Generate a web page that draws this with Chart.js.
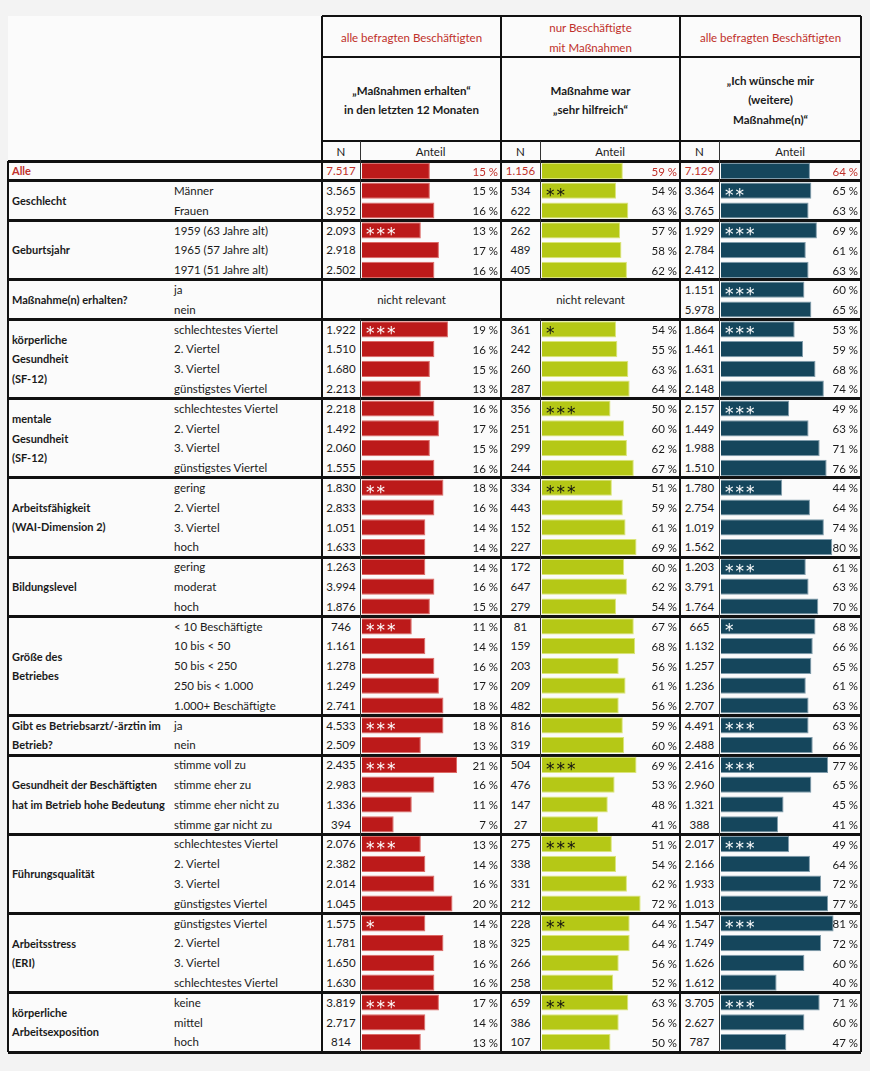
<!DOCTYPE html>
<html lang="de">
<head>
<meta charset="utf-8">
<title>Maßnahmen – Tabelle</title>
<script src="https://cdn.jsdelivr.net/npm/chart.js@4.4.1/dist/chart.umd.min.js"></script>
<style>
  html, body { margin: 0; padding: 0; background: #f3f3f3; }
  #wrap { position: relative; width: 870px; height: 1071px; font-family: Lato, "Noto Sans", sans-serif; font-size: 11.5px; color: #1a1a1a; }
  .t { position: absolute; white-space: nowrap; line-height: 19.4px; }
  .ln { position: absolute; background: #111; }
  canvas { position: absolute; }
</style>
</head>
<body>
<div id="wrap"></div>
<script>
// --- DATA ---
const groupLabels = ['Alle', 'Geschlecht', 'Geburtsjahr', 'Maßnahme(n) erhalten?', 'körperliche\nGesundheit\n(SF-12)',
    'mentale\nGesundheit\n(SF-12)', 'Arbeitsfähigkeit\n(WAI-Dimension 2)', 'Bildungslevel', 'Größe des\nBetriebes',
    'Gibt es Betriebsarzt/-ärztin im\nBetrieb?', 'Gesundheit der Beschäftigten\nhat im Betrieb hohe Bedeutung',
    'Führungsqualität', 'Arbeitsstress\n(ERI)', 'körperliche\nArbeitsexposition'];
const groupSizes = [1, 2, 3, 2, 4, 4, 4, 3, 5, 2, 4, 4, 4, 3];
const rowLabels = ['',
    'Männer', 'Frauen',
    '1959 (63 Jahre alt)', '1965 (57 Jahre alt)', '1971 (51 Jahre alt)',
    'ja', 'nein',
    'schlechtestes Viertel', '2. Viertel', '3. Viertel', 'günstigstes Viertel',
    'schlechtestes Viertel', '2. Viertel', '3. Viertel', 'günstigstes Viertel',
    'gering', '2. Viertel', '3. Viertel', 'hoch',
    'gering', 'moderat', 'hoch',
    '< 10 Beschäftigte', '10 bis < 50', '50 bis < 250', '250 bis < 1.000', '1.000+ Beschäftigte',
    'ja', 'nein',
    'stimme voll zu', 'stimme eher zu', 'stimme eher nicht zu', 'stimme gar nicht zu',
    'schlechtestes Viertel', '2. Viertel', '3. Viertel', 'günstigstes Viertel',
    'günstigstes Viertel', '2. Viertel', '3. Viertel', 'schlechtestes Viertel',
    'keine', 'mittel', 'hoch'];

// Spalte 1: Maßnahmen erhalten
const n1 = [7517, 3565, 3952, 2093, 2918, 2502, null, null, 1922, 1510, 1680, 2213, 2218, 1492, 2060, 1555,
    1830, 2833, 1051, 1633, 1263, 3994, 1876, 746, 1161, 1278, 1249, 2741, 4533, 2509, 2435, 2983, 1336, 394,
    2076, 2382, 2014, 1045, 1575, 1781, 1650, 1630, 3819, 2717, 814];
const anteil1 = [15, 15, 16, 13, 17, 16, null, null, 19, 16, 15, 13, 16, 17, 15, 16, 18, 16, 14, 14, 14, 16, 15,
    11, 14, 16, 17, 18, 18, 13, 21, 16, 11, 7, 13, 14, 16, 20, 14, 18, 16, 16, 17, 14, 13];
const sig1 = ['', '', '', '***', '', '', '', '', '***', '', '', '', '', '', '', '', '**', '', '', '', '', '', '',
    '***', '', '', '', '', '***', '', '***', '', '', '', '***', '', '', '', '*', '', '', '', '***', '', ''];

// Spalte 2: sehr hilfreich
const n2 = [1156, 534, 622, 262, 489, 405, null, null, 361, 242, 260, 287, 356, 251, 299, 244,
    334, 443, 152, 227, 172, 647, 279, 81, 159, 203, 209, 482, 816, 319, 504, 476, 147, 27,
    275, 338, 331, 212, 228, 325, 266, 258, 659, 386, 107];
const anteil2 = [59, 54, 63, 57, 58, 62, null, null, 54, 55, 63, 64, 50, 60, 62, 67, 51, 59, 61, 69, 60, 62, 54,
    67, 68, 56, 61, 56, 59, 60, 69, 53, 48, 41, 51, 54, 62, 72, 64, 64, 56, 52, 63, 56, 50];
const sig2 = ['', '**', '', '', '', '', '', '', '*', '', '', '', '***', '', '', '', '***', '', '', '', '', '', '',
    '', '', '', '', '', '', '', '***', '', '', '', '***', '', '', '', '**', '', '', '', '**', '', ''];

// Spalte 3: Wunsch nach (weiteren) Maßnahmen
const n3 = [7129, 3364, 3765, 1929, 2784, 2412, 1151, 5978, 1864, 1461, 1631, 2148, 2157, 1449, 1988, 1510,
    1780, 2754, 1019, 1562, 1203, 3791, 1764, 665, 1132, 1257, 1236, 2707, 4491, 2488, 2416, 2960, 1321, 388,
    2017, 2166, 1933, 1013, 1547, 1749, 1626, 1612, 3705, 2627, 787];
const anteil3 = [64, 65, 63, 69, 61, 63, 60, 65, 53, 59, 68, 74, 49, 63, 71, 76, 44, 64, 74, 80, 61, 63, 70,
    68, 66, 65, 61, 63, 63, 66, 77, 65, 45, 41, 49, 64, 72, 77, 81, 72, 60, 40, 71, 60, 47];
const sig3 = ['', '**', '', '***', '', '', '***', '', '***', '', '', '', '***', '', '', '', '***', '', '', '', '***', '', '',
    '*', '', '', '', '', '***', '', '***', '', '', '', '***', '', '', '', '***', '', '', '', '***', '', ''];

const headTop = ['alle befragten Beschäftigten', 'nur Beschäftigte\nmit Maßnahmen', 'alle befragten Beschäftigten'];
const headMain = ['„Maßnahmen erhalten“\nin den letzten 12 Monaten', 'Maßnahme war\n„sehr hilfreich“', '„Ich wünsche mir\n(weitere)\nMaßnahme(n)“'];

// --- LAYOUT ---
const RED = '#c0302a';
const TEXT = '#1a1a1a';
const X_LEFT = 8, X_SUB = 174, X_SPLIT = 322, X_RIGHT = 861;
const cols = [
    { n: [322, 360], a: [360, 501], xMax: 30.5, color: '#bc1a1a', border: '#dc6a66', star: '#ffffff', n_: n1, v: anteil1, s: sig1 },
    { n: [501, 540], a: [540, 680], xMax: 100, color: '#b5c816', border: '#dbe57a', star: '#111111', n_: n2, v: anteil2, s: sig2 },
    { n: [680, 719], a: [719, 861], xMax: 100, color: '#15465c', border: '#7f9cab', star: '#ffffff', n_: n3, v: anteil3, s: sig3 }
];
const Y_TOP = 16, Y_H1 = 57, Y_H2 = 141, BODY_TOP = 161, BODY_BOTTOM = 1052;
const ROW_H = (BODY_BOTTOM - BODY_TOP) / rowLabels.length;
const rowY = i => BODY_TOP + (i + 0.5) * ROW_H;

const wrap = document.getElementById('wrap');

function text(str, left, width, cy, opts = {}) {
    const lines = str.split('\n');
    const d = document.createElement('div');
    d.className = 't';
    d.innerHTML = lines.map(l => l.replace(/</g, '&lt;')).join('<br>');
    d.style.left = left + 'px';
    if (width) { d.style.width = width + 'px'; d.style.textAlign = 'center'; }
    d.style.top = (cy - lines.length * 19.4 / 2) + 'px';
    if (opts.bold) d.style.fontWeight = 'bold';
    if (opts.color) d.style.color = opts.color;
    if (opts.size) d.style.fontSize = opts.size + 'px';
    wrap.appendChild(d);
}
function line(x1, y1, x2, y2, w, color) {
    const d = document.createElement('div');
    d.className = 'ln';
    if (y1 === y2) { d.style.left = x1 + 'px'; d.style.width = (x2 - x1) + 'px'; d.style.top = (y1 - w / 2) + 'px'; d.style.height = w + 'px'; }
    else { d.style.top = y1 + 'px'; d.style.height = (y2 - y1) + 'px'; d.style.left = (x1 - w / 2) + 'px'; d.style.width = w + 'px'; }
    if (color) d.style.background = color;
    wrap.appendChild(d);
}

// table background
const bg = document.createElement('div');
bg.style.cssText = `position:absolute;left:${X_LEFT}px;top:${Y_TOP}px;width:${X_RIGHT - X_LEFT}px;height:${BODY_BOTTOM - Y_TOP}px;background:#fbfbfb`;
wrap.appendChild(bg);

// --- HEADER ---
cols.forEach((c, k) => {
    text(headTop[k], c.n[0], c.a[1] - c.n[0], (Y_TOP + Y_H1) / 2 + 1, { color: RED });
    text(headMain[k], c.n[0], c.a[1] - c.n[0], (Y_H1 + Y_H2) / 2 + 1, { bold: true });
    text('N', c.n[0], c.n[1] - c.n[0], (Y_H2 + BODY_TOP) / 2 + 1);
    text('Anteil', c.a[0], c.a[1] - c.a[0], (Y_H2 + BODY_TOP) / 2 + 1);
});

// --- ROW LABELS ---
let start = 0;
const groupStarts = [];
groupLabels.forEach((g, k) => {
    groupStarts.push(start);
    const cy = BODY_TOP + (start + groupSizes[k] / 2) * ROW_H;
    text(g, 12, 0, cy, { bold: true, size: 11, color: k === 0 ? RED : TEXT });
    start += groupSizes[k];
});
rowLabels.forEach((l, i) => { if (l) text(l, X_SUB, 0, rowY(i)); });

// N columns
const fmt = v => v.toLocaleString('de-DE');
cols.forEach(c => {
    c.n_.forEach((v, i) => {
        if (v == null) return;
        text(fmt(v), c.n[0], c.n[1] - c.n[0], rowY(i), { color: i === 0 ? RED : TEXT });
    });
});

// "nicht relevant"
const relGroup = 3;
const relStart = groupStarts[relGroup];
const relCy = BODY_TOP + (relStart + groupSizes[relGroup] / 2) * ROW_H;
cols.forEach(c => {
    if (c.v[relStart] == null) text('nicht relevant', c.n[0], c.a[1] - c.n[0], relCy);
});

// --- LINES ---
line(X_SPLIT, Y_TOP, X_RIGHT, Y_TOP, 2);
line(X_SPLIT, Y_H1, X_RIGHT, Y_H1, 2.5);
line(X_SPLIT, Y_H2, X_RIGHT, Y_H2, 2.5);
line(X_LEFT, BODY_TOP, X_RIGHT, BODY_TOP, 3);
groupStarts.slice(1).forEach(s => line(X_LEFT, BODY_TOP + s * ROW_H, X_RIGHT, BODY_TOP + s * ROW_H, 3));
line(X_LEFT, BODY_BOTTOM, X_RIGHT, BODY_BOTTOM, 3);
line(X_LEFT, BODY_TOP, X_LEFT, BODY_BOTTOM, 2.5);
[X_SPLIT, cols[0].a[1], cols[1].a[1], X_RIGHT].forEach(x => line(x, Y_TOP, x, BODY_BOTTOM, 2.5));
cols.forEach(c => {
    const x = c.a[0];
    if (c.v[relStart] == null) {
        line(x, Y_H2, x, BODY_TOP + relStart * ROW_H, 1, '#333');
        line(x, BODY_TOP + (relStart + groupSizes[relGroup]) * ROW_H, x, BODY_BOTTOM, 1, '#333');
    } else {
        line(x, Y_H2, x, BODY_BOTTOM, 1, '#333');
    }
});

// --- CHARTS ---
const cellText = {
    id: 'cellText',
    afterDatasetsDraw(chart, args, opts) {
        const { ctx, chartArea } = chart;
        const values = chart.data.datasets[0].data;
        ctx.save();
        chart.getDatasetMeta(0).data.forEach((bar, i) => {
            if (values[i] == null) return;
            ctx.font = '11.5px Lato';
            ctx.textAlign = 'right';
            ctx.textBaseline = 'middle';
            ctx.fillStyle = i === 0 ? RED : TEXT;
            ctx.fillText(`${values[i]}\u202F%`, chartArea.right - 2, bar.y + 1);
            const s = opts.stars[i];
            if (s) {
                ctx.fillStyle = opts.starColor;
                ctx.font = '17px "DejaVu Sans"';
                ctx.textAlign = 'left';
                ctx.textBaseline = 'alphabetic';
                for (let k = 0; k < s.length; k++) ctx.fillText('*', chartArea.left + 4 + k * 10.5, bar.y + 10);
            }
        });
        ctx.restore();
    }
};

cols.forEach(c => {
    const cv = document.createElement('canvas');
    const left = c.a[0] + 2, right = c.a[1] - 1;
    cv.width = right - left;
    cv.height = BODY_BOTTOM - BODY_TOP;
    cv.style.left = left + 'px';
    cv.style.top = BODY_TOP + 'px';
    wrap.appendChild(cv);
    new Chart(cv.getContext('2d'), {
        type: 'bar',
        data: {
            labels: rowLabels,
            datasets: [{ data: c.v, backgroundColor: c.color, borderColor: c.border, borderWidth: 1,
                barPercentage: 0.82, categoryPercentage: 1 }]
        },
        options: {
            indexAxis: 'y',
            responsive: false,
            animation: false,
            layout: { padding: 0 },
            scales: {
                x: { display: false, min: 0, max: c.xMax },
                y: { display: false }
            },
            plugins: {
                legend: { display: false },
                tooltip: { enabled: false },
                cellText: { stars: c.s, starColor: c.star }
            }
        },
        plugins: [cellText]
    });
});
</script>
</body>
</html>
